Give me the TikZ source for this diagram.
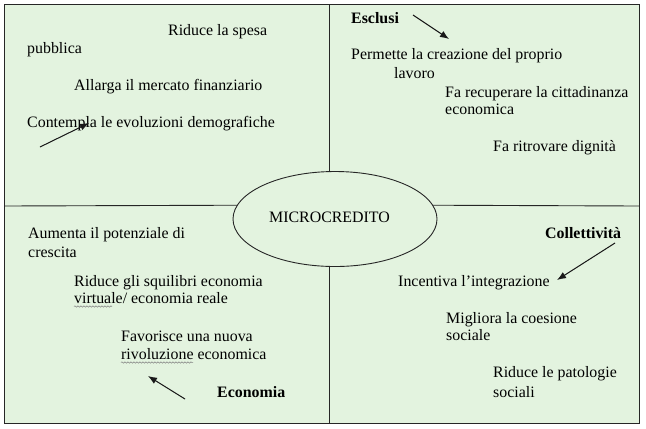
\documentclass[tikz,border=0pt]{standalone}
\usepackage{fontspec}
\setmainfont{Liberation Serif}
\usetikzlibrary{arrows.meta,shapes.geometric,decorations.pathmorphing}
\definecolor{fondo}{RGB}{227,243,223}

\begin{document}
\begin{tikzpicture}[x=1bp,y=-1bp,font=\fontsize{15.9bp}{19bp}\selectfont]
    \tikzstyle{every node}=[inner sep=0pt,anchor=base west];
    \tikzstyle{riga}=[draw=black!85,line width=0.9bp];
    \tikzstyle{freccia}=[-{Latex[length=9bp,width=7bp]},line width=1bp,draw=black!90,fill=black!90];
    \tikzstyle{onda}=[draw=gray,line width=0.5bp,decorate,decoration={snake,amplitude=0.7bp,segment length=3bp}];
    \useasboundingbox (0,0) rectangle (646,428);
    \fill[fondo] (4.5,4) rectangle (639,423);
    \draw[riga] (4.5,4) rectangle (639,423);

    \node[ellipse,draw=black!85,line width=0.9bp,minimum width=204bp,minimum height=95bp,anchor=center] at (335,219) (micro) {};
    \node[anchor=base] at (329.5,222) (microtxt) {MICROCREDITO};

    \coordinate (sx) at (4.5,206);
    \coordinate (dx) at (639,206);
    \coordinate (su) at (329,4);
    \coordinate (giu) at (329,423);

% quadrante alto a sinistra
    \node at (168,35)  (spesa1) {Riduce la spesa};
    \node at (27,53)   (spesa2) {pubblica};
    \node at (74,90)   (mercato) {Allarga il mercato finanziario};
    \node at (27,127)  (demo) {Contempla le evoluzioni demografiche};
    \coordinate (a1s) at (40,147);
    \coordinate (a1e) at (89,123);

% quadrante alto a destra
    \node[font=\fontsize{15.9bp}{19bp}\selectfont\bfseries] at (351,23) (esclusi) {Esclusi};
    \node at (351,59)  (lavoro1) {Permette la creazione del proprio};
    \node at (394,78)  (lavoro2) {lavoro};
    \node at (445,97)  (citt1) {Fa recuperare la cittadinanza};
    \node at (445,114) (citt2) {economica};
    \node at (493,151) (dign) {Fa ritrovare dignità};
    \coordinate (a2s) at (413,15);
    \coordinate (a2e) at (449,39);

% quadrante basso a sinistra
    \node at (28,238)  (cresc1) {Aumenta il potenziale di};
    \node at (28,257)  (cresc2) {crescita};
    \node at (74,286)  (squil1) {Riduce gli squilibri economia};
    \node at (74,303)  (squil2) {virtuale/ economia reale};
    \node at (121,341) (rivol1) {Favorisce una nuova};
    \node at (121,359) (rivol2) {rivoluzione economica};
    \node[font=\fontsize{15.9bp}{19bp}\selectfont\bfseries] at (217,397) (econ) {Economia};
    \coordinate (a3s) at (185,399);
    \coordinate (a3e) at (148,376);

% quadrante basso a destra
    \node[font=\fontsize{15.9bp}{19bp}\selectfont\bfseries] at (545,238) (coll) {Collettività};
    \node at (398,286) (integr) {Incentiva l’integrazione};
    \node at (446,323) (coes1) {Migliora la coesione};
    \node at (446,340) (coes2) {sociale};
    \node at (493,377) (pato1) {Riduce le patologie};
    \node at (493,397) (pato2) {sociali};
    \coordinate (a4s) at (615,243);
    \coordinate (a4e) at (557,280);

    \draw[riga] (sx) -- (micro.172);
    \draw[riga] (dx) -- (micro.8);
    \draw[riga] (su) -- (su |- micro.north);
    \draw[riga] (giu) -- (giu |- micro.south);

    \draw[freccia] (a1s) to (a1e);
    \draw[freccia] (a2s) to (a2e);
    \draw[freccia] (a3s) to (a3e);
    \draw[freccia] (a4s) to (a4e);

    \draw[onda] ([yshift=-3.5bp]squil2.base west) -- +(38,0);
    \draw[onda] ([yshift=-3.5bp]rivol2.base west) -- +(72,0);
	\end{tikzpicture}
\end{document}
